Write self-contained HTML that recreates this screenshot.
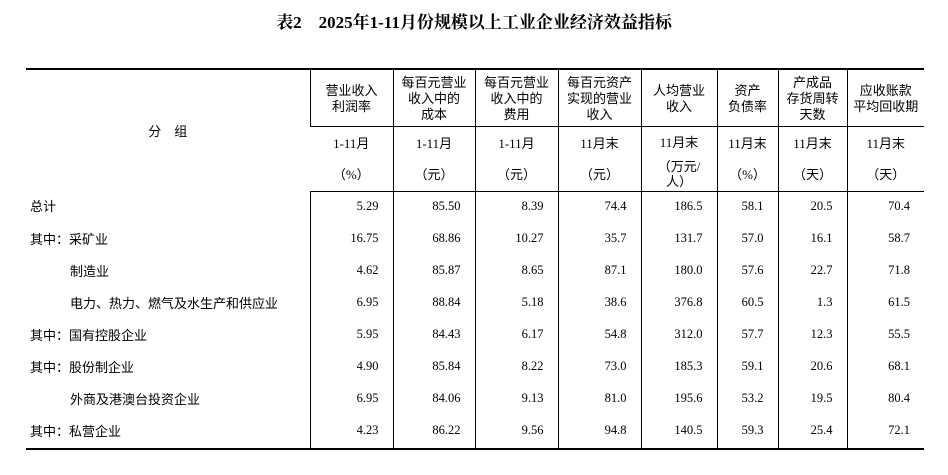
<!DOCTYPE html>
<html><head><meta charset="utf-8"><style>
body{margin:0;width:948px;height:475px;background:#fff;position:relative;overflow:hidden;font-family:"Liberation Serif","Noto Sans CJK SC",serif;color:#000}
.t{position:absolute;left:0;width:948px;top:8px;text-align:center;font-weight:bold;font-size:17px;font-family:"Liberation Serif","Noto Serif CJK SC",serif}
table{position:absolute;left:26px;top:68px;border-collapse:collapse;table-layout:fixed;border-top:2px solid #000;border-bottom:2px solid #000}
td{padding:0;font-size:13px;text-align:center;border-left:1px solid #000;font-family:"Liberation Serif","Noto Sans CJK SC",sans-serif}
td:first-child{border-left:none}
.h td{line-height:16px;font-family:"Noto Sans CJK SC",sans-serif}
.h2 td{border-top:1px solid #000;border-bottom:1px solid #000}
.h2 td div{height:31px;line-height:31px}
.d td{height:29px;padding-bottom:3px;text-align:right;padding-right:14px;font-size:12.5px}
.d td:first-child{text-align:left;padding-left:4px;font-family:"Noto Sans CJK SC",sans-serif;font-size:13px}
.i{padding-left:44px!important}
</style></head><body>
<div class="t">表2　2025年1-11月份规模以上工业企业经济效益指标</div>
<table>
<colgroup><col style="width:284px"><col style="width:83px"><col style="width:82px"><col style="width:83px"><col style="width:83px"><col style="width:76px"><col style="width:61px"><col style="width:69px"><col style="width:77px"></colgroup>
<tr class="h" style="height:57px"><td rowspan="2" style="font-size:13px">分　组</td><td>营业收入<br>利润率</td><td>每百元营业<br>收入中的<br>成本</td><td>每百元营业<br>收入中的<br>费用</td><td>每百元资产<br>实现的营业<br>收入</td><td>人均营业<br>收入</td><td>资产<br>负债率</td><td>产成品<br>存货周转<br>天数</td><td>应收账款<br>平均回收期</td></tr>
<tr class="h2" style="height:65px"><td><div>1-11月</div><div>（%）</div></td><td><div>1-11月</div><div>（元）</div></td><td><div>1-11月</div><div>（元）</div></td><td><div>11月末</div><div>（元）</div></td><td><div>11月末</div><div style="line-height:15px;padding-top:1px">（万元/<br>人）</div></td><td><div>11月末</div><div>（%）</div></td><td><div>11月末</div><div>（天）</div></td><td><div>11月末</div><div>（天）</div></td></tr>
<tr class="d"><td>总计</td><td>5.29</td><td>85.50</td><td>8.39</td><td>74.4</td><td>186.5</td><td>58.1</td><td>20.5</td><td>70.4</td></tr>
<tr class="d"><td>其中：采矿业</td><td>16.75</td><td>68.86</td><td>10.27</td><td>35.7</td><td>131.7</td><td>57.0</td><td>16.1</td><td>58.7</td></tr>
<tr class="d"><td class="i">制造业</td><td>4.62</td><td>85.87</td><td>8.65</td><td>87.1</td><td>180.0</td><td>57.6</td><td>22.7</td><td>71.8</td></tr>
<tr class="d"><td class="i">电力、热力、燃气及水生产和供应业</td><td>6.95</td><td>88.84</td><td>5.18</td><td>38.6</td><td>376.8</td><td>60.5</td><td>1.3</td><td>61.5</td></tr>
<tr class="d"><td>其中：国有控股企业</td><td>5.95</td><td>84.43</td><td>6.17</td><td>54.8</td><td>312.0</td><td>57.7</td><td>12.3</td><td>55.5</td></tr>
<tr class="d"><td>其中：股份制企业</td><td>4.90</td><td>85.84</td><td>8.22</td><td>73.0</td><td>185.3</td><td>59.1</td><td>20.6</td><td>68.1</td></tr>
<tr class="d"><td class="i">外商及港澳台投资企业</td><td>6.95</td><td>84.06</td><td>9.13</td><td>81.0</td><td>195.6</td><td>53.2</td><td>19.5</td><td>80.4</td></tr>
<tr class="d"><td>其中：私营企业</td><td>4.23</td><td>86.22</td><td>9.56</td><td>94.8</td><td>140.5</td><td>59.3</td><td>25.4</td><td>72.1</td></tr>
</table>
</body></html>
